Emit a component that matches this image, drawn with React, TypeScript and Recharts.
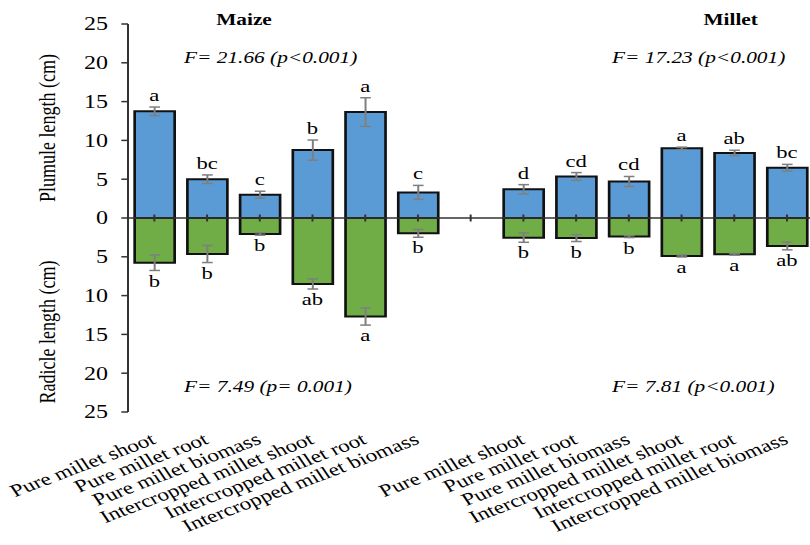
import {
  ComposedChart,
  Bar,
  Line,
  XAxis,
  YAxis,
  ErrorBar,
  LabelList,
  ReferenceLine,
} from "recharts";

const FONT = '"Liberation Serif", "Times New Roman", serif';
// the reference image is stretched horizontally, so the chart is drawn narrow and scaled
const SX = 810 / 607.5;
const W = 612;
const H = 545;

const CATEGORY_KEYS = [
  "mz1", "mz2", "mz3", "mz4", "mz5", "mz6",
  "gap",
  "ml1", "ml2", "ml3", "ml4", "ml5", "ml6",
];
const CATEGORY_LABELS = [
  "Pure millet shoot",
  "Pure millet root",
  "Pure millet biomass",
  "Intercropped millet shoot",
  "Intercropped millet root",
  "Intercropped millet biomass",
  "",
  "Pure millet shoot",
  "Pure millet root",
  "Pure millet biomass",
  "Intercropped millet shoot",
  "Intercropped millet root",
  "Intercropped millet biomass",
];

const PLUMULE = [13.75, 5.0, 3.0, 8.75, 13.65, 3.3, null, 3.7, 5.35, 4.7, 8.98, 8.38, 6.48];
const PLUMULE_SE = [0.55, 0.55, 0.45, 1.3, 1.85, 0.9, null, 0.6, 0.5, 0.65, 0.15, 0.35, 0.43];
const PLUMULE_LETTERS = ["a", "bc", "c", "b", "a", "c", "", "d", "cd", "cd", "a", "ab", "bc"];

const RADICLE = [5.76, 4.64, 2.06, 8.5, 12.7, 1.98, null, 2.53, 2.58, 2.4, 4.9, 4.68, 3.6];
const RADICLE_SE = [1.0, 1.1, 0.15, 0.65, 1.1, 0.5, null, 0.6, 0.45, 0.12, 0.12, 0.1, 0.5];
const RADICLE_LETTERS = ["b", "b", "b", "ab", "a", "b", "", "b", "b", "b", "a", "a", "ab"];

const Y_TICKS = [-25, -20, -15, -10, -5, 0, 5, 10, 15, 20, 25];

const rows = CATEGORY_KEYS.map((key, i) => {
  const p = PLUMULE[i];
  const r = RADICLE[i];
  return {
    key,
    plumule: p,
    plumSe: PLUMULE_SE[i],
    plumTop: p == null ? null : p + (PLUMULE_SE[i] ?? 0),
    plumLetter: PLUMULE_LETTERS[i],
    radicle: r == null ? null : -r,
    radSe: RADICLE_SE[i],
    radBottom: r == null ? null : -(r + (RADICLE_SE[i] ?? 0)),
    radLetter: RADICLE_LETTERS[i],
  };
});

// eslint-disable-next-line @typescript-eslint/no-explicit-any
function CategoryTick(props: any) {
  const { x, y, payload } = props;
  const idx = CATEGORY_KEYS.indexOf(payload.value);
  const label = CATEGORY_LABELS[idx] ?? "";
  if (!label) return null;
  return (
    <g transform={`translate(${x + 2},${y + 31})`}>
      <text
        x={0}
        y={0}
        textAnchor="end"
        transform="rotate(-27)"
        fontSize={17.5}
        fontFamily={FONT}
        fill="#000"
      >
        {label}
      </text>
    </g>
  );
}

export default function App() {
  return (
    <div
      style={{
        position: "absolute",
        left: 0,
        top: 0,
        width: 810,
        height: H,
        overflow: "hidden",
        background: "#fff",
      }}
    >
      <div
        style={{
          position: "relative",
          width: W,
          height: H,
          transform: `scaleX(${SX})`,
          transformOrigin: "0 0",
        }}
      >
        <ComposedChart
          width={W}
          height={H}
          data={rows}
          margin={{ top: 24, right: 2, bottom: 0, left: 0 }}
        >
          <XAxis
            xAxisId="a"
            dataKey="key"
            type="category"
            height={133}
            axisLine={false}
            tickLine={false}
            tickSize={0}
            tickMargin={0}
            interval={0}
            tick={<CategoryTick />}
          />
          <XAxis xAxisId="b" dataKey="key" type="category" hide />
          <YAxis
            type="number"
            domain={[-25, 25]}
            ticks={Y_TICKS}
            interval={0}
            width={96}
            tickSize={5}
            tickMargin={10}
            stroke="#333"
            strokeWidth={1.5}
            tickFormatter={(v: number) => String(Math.abs(v))}
            tick={{ fontSize: 18, fill: "#000", fontFamily: FONT }}
          />
          <Bar
            xAxisId="a"
            dataKey="plumule"
            barSize={30}
            fill="#5B9BD5"
            stroke="#111"
            strokeWidth={2}
            isAnimationActive={false}
          >
            <ErrorBar
              dataKey="plumSe"
              direction="y"
              width={4}
              stroke="#7f7f7f"
              strokeWidth={1.5}
            />
          </Bar>
          <Bar
            xAxisId="b"
            dataKey="radicle"
            barSize={30}
            fill="#70AD47"
            stroke="#111"
            strokeWidth={2}
            isAnimationActive={false}
          >
            <ErrorBar
              dataKey="radSe"
              direction="y"
              width={4}
              stroke="#7f7f7f"
              strokeWidth={1.5}
            />
          </Bar>
          <Line
            xAxisId="a"
            dataKey="plumTop"
            stroke="none"
            dot={false}
            activeDot={false}
            isAnimationActive={false}
          >
            <LabelList
              dataKey="plumLetter"
              position="top"
              offset={6}
              fontSize={17}
              fill="#000"
              fontFamily={FONT}
            />
          </Line>
          <Line
            xAxisId="a"
            dataKey="radBottom"
            stroke="none"
            dot={false}
            activeDot={false}
            isAnimationActive={false}
          >
            <LabelList
              dataKey="radLetter"
              position="bottom"
              offset={4}
              fontSize={17}
              fill="#000"
              fontFamily={FONT}
            />
          </Line>
          <ReferenceLine xAxisId="a" y={0} stroke="#333" strokeWidth={1.5} />
          {CATEGORY_KEYS.map((k) => (
            <ReferenceLine
              key={k}
              xAxisId="a"
              segment={[
                { x: k, y: -0.45 },
                { x: k, y: 0.45 },
              ]}
              stroke="#333"
              strokeWidth={1.5}
            />
          ))}
        </ComposedChart>
        <svg
          width={W}
          height={H}
          style={{ position: "absolute", left: 0, top: 0, pointerEvents: "none" }}
          fontFamily={FONT}
        >
          <text x={183} y={25} textAnchor="middle" fontSize={16} fontWeight="bold">
            Maize
          </text>
          <text x={548} y={25} textAnchor="middle" fontSize={16} fontWeight="bold">
            Millet
          </text>
          <text x={203} y={63} textAnchor="middle" fontSize={16} fontStyle="italic">
            F= 21.66 (p&lt;0.001)
          </text>
          <text x={524} y={63} textAnchor="middle" fontSize={16} fontStyle="italic">
            F= 17.23 (p&lt;0.001)
          </text>
          <text x={201} y={392} textAnchor="middle" fontSize={16} fontStyle="italic">
            F= 7.49 (p= 0.001)
          </text>
          <text x={520} y={392} textAnchor="middle" fontSize={16} fontStyle="italic">
            F= 7.81 (p&lt;0.001)
          </text>
          <text
            x={0}
            y={0}
            textAnchor="middle"
            fontSize={18}
            transform="translate(41,128) rotate(-90)"
          >
            Plumule length (cm)
          </text>
          <text
            x={0}
            y={0}
            textAnchor="middle"
            fontSize={18}
            transform="translate(41,332) rotate(-90)"
          >
            Radicle length (cm)
          </text>
        </svg>
      </div>
    </div>
  );
}
